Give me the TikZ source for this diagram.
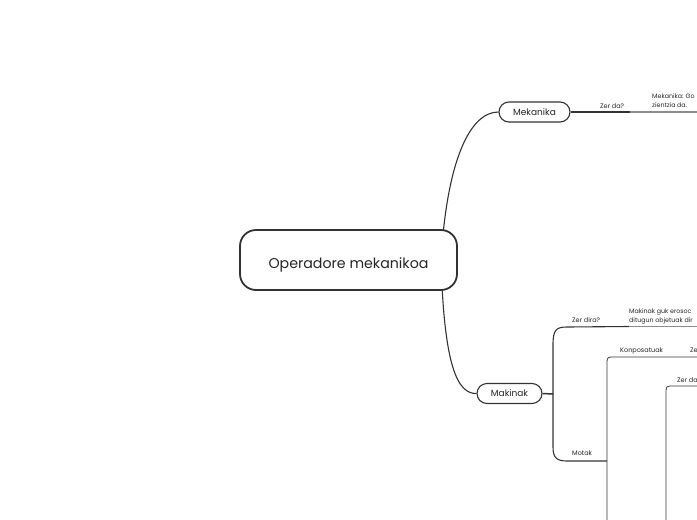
\documentclass[tikz,border=0pt]{standalone}
\usepackage{fontspec}
\setmainfont{Poppins}
\usetikzlibrary{backgrounds}
\begin{document}
\begin{tikzpicture}[x=1pt,y=-1pt,
  conn/.style={draw=black!80,line width=1.1pt},
  thinconn/.style={draw=black!78,line width=0.8pt},
  under/.style={draw=black!45,line width=1.2pt},
  mainbox/.style={draw=black!80,fill=white,line width=1.8pt,rounded corners=16pt,minimum width=217pt,minimum height=60pt,font=\fontsize{14.2}{16}\selectfont,text=black!85,inner sep=0pt,text height=16pt,text depth=0pt},
  subbox/.style={draw=black!80,fill=white,line width=1.1pt,rounded corners=10pt,minimum height=20pt,font=\fontsize{9}{11}\selectfont,text=black!85,inner sep=0pt},
  lbl/.style={anchor=base west,inner sep=0pt,font=\fontsize{6.5}{8}\selectfont,text=black!85},
  txt/.style={anchor=base west,inner sep=0pt,align=left,font=\fontsize{6.3}{8.7}\selectfont,text=black!85}
]
\useasboundingbox (0,0) rectangle (697,520);
\clip (0,0) rectangle (697,520);

% main nodes
\node[mainbox] (main) at (348.5,260) {Operadore mekanikoa};
\node[subbox,minimum width=71pt] (mek) at (534.5,112) {Mekanika};
\node[subbox,minimum width=65pt] (mak) at (509.5,393.5) {Makinak};

% coordinates
\coordinate (mainc) at (441,260);
\coordinate (mekj) at (630,112);
\coordinate (mekend) at (697,112);
\coordinate (makj) at (553,394);
\coordinate (zdj) at (629,326.5);
\coordinate (zdend) at (697,326.5);
\coordinate (motj) at (607,461);
\coordinate (konbot) at (607,525);
\coordinate (konend) at (697,357);
\coordinate (zerbot) at (666,525);
\coordinate (zerend) at (697,386);

% page background and connectors from the root (behind the nodes)
\begin{scope}[on background layer]
\fill[white] (0,0) rectangle (697,520);
\draw[conn] (mainc) .. controls (447,160) and (470,112) .. (mek.west);
\draw[conn] (mainc) .. controls (444,365) and (457,394) .. (mak.west);
\end{scope}

% Mekanika branch
\draw[conn] (mek.east) -- (mekj);
\draw[under] (mekj) -- (mekend);
\node[lbl] (zerda) at (600,108) {Zer da?};
\node[txt] (mektxt) at (652,107.5) {Mekanika: Go\\zientzia da.};

% Makinak branch
\draw[conn,line width=1.5pt] (mak.east) -- (makj);
\draw[conn] (makj) -- (553,345) .. controls (553,330) and (556,327) .. (567,327) -- (zdj);
\draw[under] (zdj) -- (zdend);
\node[lbl] (zerdira) at (572,322.5) {Zer dira?};
\node[txt] (maktxt) at (629,322) {Makinak guk erosoc\\ditugun objetuak dir};

\draw[conn] (makj) -- (553,447) .. controls (553,458) and (557,461) .. (567,461) -- (motj);
\node[lbl] (motak) at (572,455.5) {Motak};

% Motak sub-branches
\draw[thinconn] (konbot) -- (607,362) .. controls (607,358) and (608,357) .. (612,357) -- (konend);
\node[lbl] (konpos) at (620,352) {Konposatuak};
\node[lbl] (ze) at (690,352) {Ze};

\draw[thinconn] (zerbot) -- (666,391) .. controls (666,387) and (667,386) .. (671,386) -- (zerend);
\node[lbl] (zerda2) at (677,382) {Zer da};
\end{tikzpicture}
\end{document}
